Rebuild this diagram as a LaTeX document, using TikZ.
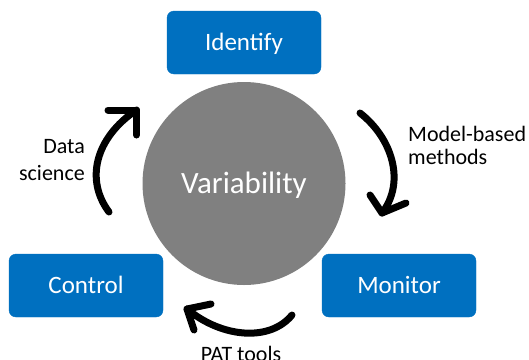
\documentclass[tikz,border=0pt]{standalone}
\usepackage{fontspec}
\setmainfont{Carlito}
\definecolor{boxblue}{HTML}{0070C0}
\definecolor{hubgray}{HTML}{808080}

\begin{document}
\begin{tikzpicture}[x=1pt,y=-1pt,
  stage/.style={rectangle, rounded corners=7pt, fill=boxblue, draw=boxblue,
    minimum width=154pt, minimum height=63pt, inner sep=0pt, text=white,
    text height=16pt, text depth=0pt, font=\fontsize{25}{30}\selectfont},
  hub/.style={circle, fill=hubgray, minimum size=203pt, inner sep=0pt,
    text=white, text height=20pt, text depth=0pt,
    font=\fontsize{31}{37}\selectfont},
  cyclelabel/.style={inner sep=0pt, font=\fontsize{22}{26.7}\selectfont},
  cyclearrow/.style={line width=7pt, line cap=round, line join=round}]
\useasboundingbox (0,0) rectangle (529,359);

% central hub and the three stages
\node[hub] (hub) at (244,183.5) {Variability};
\node[stage] (identify) at (244,42.5) {Identify};
\node[stage] (control) at (86,285.5) {Control};
\node[stage] (monitor) at (399,285.5) {Monitor};

% Control -> Identify
\coordinate (ds0) at (109,212);
\coordinate (ds1) at (136.5,110);
\coordinate (ds2) at (108,110);
\coordinate (ds3) at (136.5,135);
\draw[cyclearrow] (ds0) .. controls (85,180) and (95,138) .. (ds1);
\draw[cyclearrow] (ds2) -- (ds1) -- (ds3);

% Identify -> Monitor
\coordinate (mb0) at (360,113);
\coordinate (mb1) at (382,213);
\coordinate (mb2) at (370,195);
\coordinate (mb3) at (406,203);
\draw[cyclearrow] (mb0) .. controls (392,138) and (406,182) .. (mb1);
\draw[cyclearrow] (mb2) -- (mb1) -- (mb3);

% Monitor -> Control
\coordinate (pt0) at (292,315);
\coordinate (pt1) at (187,309);
\coordinate (pt2) at (211,304);
\coordinate (pt3) at (194,330);
\draw[cyclearrow] (pt0) .. controls (270,342) and (222,338) .. (pt1);
\draw[cyclearrow] (pt2) -- (pt1) -- (pt3);

% arrow labels (a multi-line node sits on the baseline of its last line)
\node[cyclelabel, align=right, anchor=base east] (dslabel) at (85,180)
  {Data\\science};
\node[cyclelabel, align=left, anchor=base west,
  font=\fontsize{22}{22.5}\selectfont] (mblabel) at (408,164)
  {Model-based\\methods};
\node[cyclelabel, anchor=base] (ptlabel) at (241,361) {PAT tools};
\end{tikzpicture}
\end{document}
